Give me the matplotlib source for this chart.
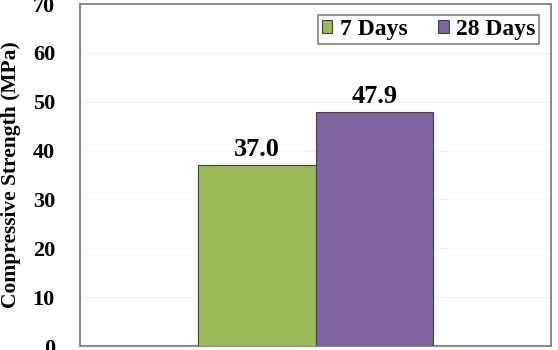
import matplotlib
matplotlib.use("Agg")
import matplotlib.pyplot as plt
import numpy as np

series = ["7 Days", "28 Days"]
values = [37.0, 47.9]
colors = ["#9BBB59", "#8064A2"]
yticks = [0, 10, 20, 30, 40, 50, 60, 70]

plt.rcParams['font.family'] = ['Liberation Serif', 'DejaVu Serif']

fig = plt.figure(figsize=(5.58, 3.5), dpi=100)
ax = fig.add_axes([80/558, 4/350, 471/558, 342/350])

width = 0.25
offsets = [-width/2, width/2]
for s, v, c, o in zip(series, values, colors, offsets):
    ax.bar(o, v, width=width, color=c, edgecolor="#404040", linewidth=0.8, label=s, zorder=3)
    ax.text(o, v + 0.9, f"{v:.1f}", ha="center", va="bottom", fontsize=19, fontweight="bold", zorder=4)

ax.set_xlim(-0.5, 0.5)
ax.set_ylim(0, 70)
ax.set_yticks(yticks)
ax.set_yticklabels([str(t) for t in yticks], fontsize=16, fontweight="bold")
ax.set_xticks([])
ax.tick_params(axis="y", length=0, pad=18)
ax.grid(axis="y", color="#F0F0F0", linewidth=0.8, zorder=0)
for sp in ax.spines.values():
    sp.set_color("#8C8C8C")
    sp.set_linewidth(1.5)
ax.set_ylabel("Compressive Strength (MPa)", fontsize=15.5, fontweight="bold")
ax.yaxis.set_label_coords(-0.125, 0.5)

leg = ax.legend(loc="upper right", ncol=2, prop={"weight": "bold", "size": 17},
                frameon=True, fancybox=False, edgecolor="#606060", handlelength=0.45,
                handleheight=0.45, handletextpad=0.3, columnspacing=1.3,
                borderpad=0.2, borderaxespad=0.3, bbox_to_anchor=(0.99, 0.99))
leg.get_frame().set_linewidth(1.2)
leg._legend_box.pad = 3  # placeholder no-op safe
for t in leg.get_texts():
    pass

fig.savefig("out.png", dpi=100)
